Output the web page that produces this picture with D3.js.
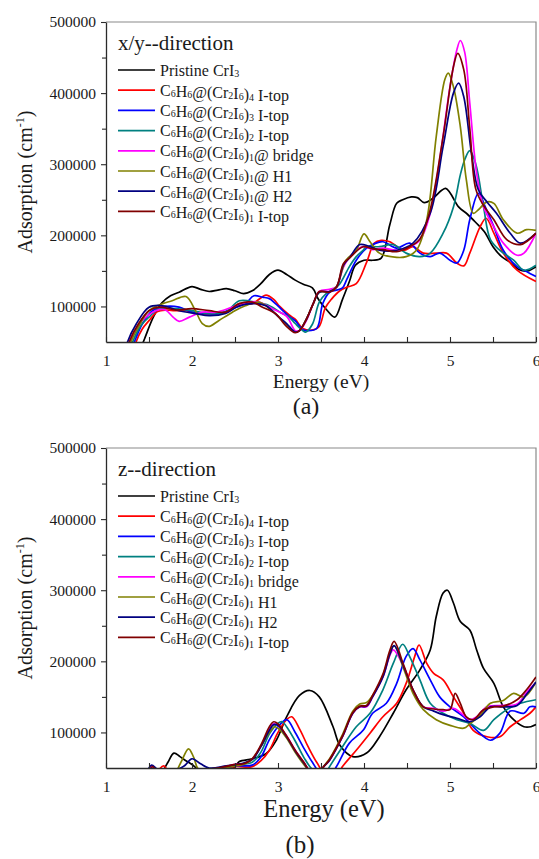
<!DOCTYPE html>
<html>
<head>
<meta charset="utf-8">
<script src="https://cdn.jsdelivr.net/npm/d3@7"></script>
<style>
  html, body { margin: 0; padding: 0; background: #fff; }
  svg { display: block; }
  svg text { font-family: "Liberation Serif", "Times New Roman", serif !important; fill: #1a1a1a; }
</style>
</head>
<body>
<svg id="chart" width="539" height="859"></svg>
<script>
// Optical absorption spectra of pristine CrI3 and C6H6-adsorbed Cr2I6 supercells.
// Each series is a list of [energy (eV), absorption (10^3 cm^-1)] pairs.

const seriesNames = [
  "Pristine CrI_3",
  "C_6H_6@(Cr_2I_6)_4 I-top",
  "C_6H_6@(Cr_2I_6)_3 I-top",
  "C_6H_6@(Cr_2I_6)_2 I-top",
  "C_6H_6@(Cr_2I_6)_1@ bridge",
  "C_6H_6@(Cr_2I_6)_1@ H1",
  "C_6H_6@(Cr_2I_6)_1@ H2",
  "C_6H_6@(Cr_2I_6)_1 I-top"
];
const seriesNamesZ = [
  "Pristine CrI_3",
  "C_6H_6@(Cr_2I_6)_4 I-top",
  "C_6H_6@(Cr_2I_6)_3 I-top",
  "C_6H_6@(Cr_2I_6)_2 I-top",
  "C_6H_6@(Cr_2I_6)_1 bridge",
  "C_6H_6@(Cr_2I_6)_1 H1",
  "C_6H_6@(Cr_2I_6)_1 H2",
  "C_6H_6@(Cr_2I_6)_1 I-top"
];
const seriesColors = ["#000000", "#ff0000", "#0000ff", "#008080", "#ff00ff", "#808000", "#000080", "#800000"];

const xTicks = [1, 2, 3, 4, 5, 6];
const xMinorTicks = [1.5, 2.5, 3.5, 4.5, 5.5];
const yTicks = [100000, 200000, 300000, 400000, 500000];
const yMinorTicks = [150000, 250000, 350000, 450000];

// ---- x/y direction ----
const xyPristine = [[1.40,40],[1.45,55],[1.55,85],[1.65,105],[1.75,115],[1.85,120],[2.0,128],[2.1,124],[2.2,121],[2.3,123],[2.4,125],[2.5,122],[2.6,118],[2.7,122],[2.8,132],[2.9,145],[3.0,151],[3.1,145],[3.2,137],[3.3,131],[3.4,126],[3.47,110],[3.56,96],[3.66,85],[3.75,110],[3.83,135],[3.9,158],[4.0,165],[4.1,165],[4.2,168],[4.3,215],[4.38,245],[4.45,250],[4.55,254],[4.62,253],[4.7,246],[4.8,252],[4.9,263],[4.95,266],[5.0,260],[5.1,240],[5.2,230],[5.3,218],[5.4,205],[5.5,184],[5.6,170],[5.7,162],[5.8,152],[5.9,150],[6.0,156]];
const xyItop4 = [[1.33,40],[1.35,50],[1.42,68],[1.5,80],[1.6,93],[1.7,95],[1.8,94],[1.93,94],[2.08,90],[2.24,90],[2.39,92],[2.55,104],[2.7,104],[2.8,112],[2.86,116],[2.95,110],[3.02,100],[3.13,88],[3.2,82],[3.29,69],[3.41,67],[3.48,72],[3.55,98],[3.62,110],[3.72,122],[3.8,127],[3.91,132],[4.03,162],[4.12,189],[4.2,193],[4.3,191],[4.46,179],[4.57,184],[4.69,175],[4.84,175],[4.96,175],[5.08,161],[5.16,157],[5.23,175],[5.35,212],[5.42,224],[5.51,203],[5.62,175],[5.78,151],[6.0,135]];
const xyItop3 = [[1.3,40],[1.33,50],[1.42,75],[1.54,94],[1.69,100],[1.85,99],[2.0,92],[2.16,90],[2.31,90],[2.47,97],[2.62,104],[2.72,115],[2.82,113],[2.9,111],[2.97,104],[3.13,86],[3.2,80],[3.28,68],[3.33,66],[3.45,69],[3.52,104],[3.6,120],[3.68,123],[3.75,126],[3.8,138],[3.91,165],[4.03,182],[4.12,188],[4.22,191],[4.38,182],[4.53,189],[4.65,175],[4.77,170],[4.88,175],[5.0,165],[5.08,161],[5.16,179],[5.23,222],[5.33,259],[5.41,240],[5.51,212],[5.62,179],[5.78,156],[5.89,149],[6.0,142]];
const xyItop2 = [[1.28,40],[1.31,50],[1.4,72],[1.5,85],[1.62,97],[1.81,97],[2.0,94],[2.2,90],[2.39,92],[2.55,108],[2.74,106],[2.9,101],[3.05,90],[3.12,86],[3.2,76],[3.25,70],[3.32,64],[3.4,75],[3.48,106],[3.56,118],[3.65,124],[3.72,132],[3.83,156],[3.91,170],[3.99,179],[4.03,184],[4.18,184],[4.34,187],[4.49,175],[4.65,170],[4.77,175],[4.92,203],[5.04,240],[5.12,285],[5.17,306],[5.23,319],[5.3,300],[5.39,240],[5.47,194],[5.58,179],[5.74,165],[5.86,151],[6.0,158]];
const xyBridge = [[1.25,40],[1.27,50],[1.35,68],[1.42,80],[1.58,94],[1.69,95],[1.78,85],[1.85,79],[1.97,85],[2.12,92],[2.28,92],[2.47,99],[2.66,106],[2.78,106],[2.93,97],[3.1,86],[3.2,66],[3.25,66],[3.33,80],[3.41,104],[3.48,121],[3.6,124],[3.68,128],[3.76,155],[3.85,172],[3.99,184],[4.1,180],[4.22,182],[4.38,179],[4.53,184],[4.65,193],[4.77,231],[4.88,306],[5.0,409],[5.08,461],[5.12,474],[5.17,458],[5.23,386],[5.31,287],[5.39,240],[5.51,212],[5.62,189],[5.78,172],[5.86,175],[6.0,203]];
const xyH1 = [[1.27,40],[1.29,50],[1.38,72],[1.5,94],[1.66,104],[1.77,108],[1.93,114],[2.04,94],[2.12,76],[2.2,72],[2.31,80],[2.47,92],[2.62,101],[2.78,106],[2.93,94],[3.09,76],[3.2,64],[3.25,66],[3.33,82],[3.41,104],[3.48,120],[3.6,121],[3.68,128],[3.79,165],[3.91,179],[4.0,202],[4.07,191],[4.18,175],[4.38,169],[4.49,170],[4.61,179],[4.73,222],[4.84,339],[4.94,419],[4.98,428],[5.04,409],[5.12,353],[5.19,278],[5.27,231],[5.33,236],[5.43,247],[5.51,245],[5.62,222],[5.78,203],[5.89,208],[6.0,207]];
const xyH2 = [[1.23,40],[1.25,50],[1.35,75],[1.5,99],[1.66,101],[1.85,94],[2.04,90],[2.2,87],[2.39,90],[2.55,101],[2.74,104],[2.86,101],[3.01,85],[3.1,76],[3.2,64],[3.25,66],[3.33,82],[3.41,104],[3.48,120],[3.6,121],[3.68,127],[3.76,158],[3.83,168],[3.95,187],[4.05,185],[4.18,179],[4.38,179],[4.57,189],[4.77,231],[4.92,325],[5.04,400],[5.1,414],[5.16,395],[5.25,315],[5.33,264],[5.43,247],[5.54,231],[5.7,203],[5.82,189],[6.0,203]];
const xyItop1 = [[1.25,40],[1.27,50],[1.38,76],[1.5,94],[1.62,99],[1.81,95],[2.0,97],[2.2,94],[2.39,92],[2.55,104],[2.7,106],[2.82,99],[2.97,90],[3.09,73],[3.2,63],[3.25,66],[3.33,82],[3.41,104],[3.48,121],[3.6,120],[3.68,127],[3.76,160],[3.83,168],[3.99,184],[4.1,181],[4.22,180],[4.38,177],[4.53,184],[4.65,195],[4.77,236],[4.92,339],[5.04,437],[5.09,456],[5.16,433],[5.23,350],[5.3,265],[5.39,242],[5.51,222],[5.66,194],[5.82,187],[6.0,203]];

// ---- z direction ----
const zPristine = [[1.66,45],[1.72,58],[1.79,71],[1.86,66],[1.92,61],[2.0,55],[2.04,51],[2.1,45],[2.4,45],[2.5,52],[2.55,59],[2.7,63],[2.86,70],[2.98,89],[3.1,122],[3.25,152],[3.37,159],[3.48,150],[3.64,108],[3.72,82],[3.87,66],[4.03,71],[4.18,94],[4.34,127],[4.49,160],[4.65,188],[4.77,216],[4.84,263],[4.92,296],[4.97,300],[5.04,282],[5.12,256],[5.23,244],[5.31,216],[5.39,190],[5.51,169],[5.62,136],[5.74,118],[5.86,108],[5.94,108],[6.0,111]];
const zItop4 = [[1.6,45],[1.67,53],[1.73,46],[2.3,48],[2.5,52],[2.7,52],[2.8,60],[2.9,75],[3.0,100],[3.1,118],[3.16,122],[3.25,105],[3.35,80],[3.45,58],[3.55,42],[3.7,42],[3.75,52],[3.91,75],[4.07,99],[4.22,122],[4.38,141],[4.49,169],[4.59,207],[4.64,223],[4.73,197],[4.81,183],[4.92,174],[5.04,150],[5.16,127],[5.27,103],[5.43,94],[5.58,94],[5.7,108],[5.82,118],[5.93,127],[6.0,136]];
const zItop3 = [[1.5,45],[1.55,52],[1.6,47],[2.3,48],[2.5,53],[2.7,54],[2.8,65],[2.9,90],[3.0,108],[3.1,118],[3.2,100],[3.3,78],[3.4,58],[3.5,42],[3.62,42],[3.68,52],[3.83,85],[3.99,103],[4.1,127],[4.26,141],[4.38,169],[4.49,207],[4.57,218],[4.65,202],[4.77,174],[4.88,150],[5.0,136],[5.16,122],[5.31,103],[5.47,89],[5.58,99],[5.7,130],[5.86,127],[5.93,136],[6.0,136]];
const zItop2 = [[2.3,48],[2.5,54],[2.7,58],[2.8,72],[2.9,98],[3.0,113],[3.05,115],[3.1,108],[3.2,88],[3.3,65],[3.4,48],[3.5,42],[3.55,42],[3.6,52],[3.75,80],[3.91,108],[4.07,127],[4.22,160],[4.34,197],[4.45,224],[4.53,207],[4.65,174],[4.77,141],[4.92,127],[5.08,118],[5.23,113],[5.39,103],[5.51,118],[5.66,132],[5.82,141],[6.0,146]];
const zBridge = [[1.5,45],[1.53,53],[1.58,46],[2.3,50],[2.5,55],[2.6,56],[2.7,62],[2.8,80],[2.9,105],[2.95,112],[3.0,110],[3.1,95],[3.2,75],[3.3,58],[3.38,45],[3.5,42],[3.52,50],[3.6,61],[3.75,94],[3.87,127],[3.95,136],[4.03,136],[4.1,150],[4.22,178],[4.3,208],[4.34,216],[4.46,193],[4.57,160],[4.69,136],[4.81,134],[4.92,130],[5.04,134],[5.12,128],[5.23,118],[5.31,122],[5.43,136],[5.62,138],[5.78,140],[5.9,158],[6.0,170]];
const zH1 = [[1.82,45],[1.88,60],[1.96,77],[2.02,65],[2.08,48],[2.3,48],[2.5,53],[2.6,55],[2.7,62],[2.8,80],[2.9,100],[2.96,108],[3.02,104],[3.1,92],[3.2,72],[3.3,55],[3.38,45],[3.5,42],[3.52,50],[3.6,63],[3.75,97],[3.87,130],[3.95,140],[4.03,142],[4.1,152],[4.22,180],[4.3,210],[4.35,222],[4.46,190],[4.57,155],[4.69,132],[4.84,118],[5.0,110],[5.16,106],[5.23,112],[5.35,124],[5.47,141],[5.62,145],[5.74,155],[5.86,150],[6.0,171]];
const zH2 = [[1.48,45],[1.53,54],[1.6,48],[1.7,45],[1.9,52],[2.0,63],[2.1,56],[2.2,50],[2.4,53],[2.6,57],[2.7,62],[2.8,80],[2.9,103],[2.95,111],[3.0,110],[3.1,94],[3.2,74],[3.3,57],[3.38,45],[3.5,42],[3.52,50],[3.6,61],[3.75,94],[3.87,127],[3.95,136],[4.03,137],[4.1,150],[4.22,178],[4.3,210],[4.35,222],[4.46,193],[4.57,160],[4.69,136],[4.81,130],[4.92,125],[5.08,120],[5.23,115],[5.35,122],[5.47,136],[5.62,136],[5.78,138],[5.9,155],[6.0,171]];
const zItop1 = [[1.5,45],[1.54,52],[1.6,46],[2.3,50],[2.5,55],[2.6,56],[2.7,63],[2.8,82],[2.9,108],[2.95,115],[3.0,112],[3.1,95],[3.2,75],[3.3,58],[3.38,45],[3.5,42],[3.52,50],[3.6,62],[3.75,95],[3.87,128],[3.95,137],[4.03,138],[4.1,152],[4.22,182],[4.3,215],[4.35,228],[4.46,195],[4.57,160],[4.69,136],[4.81,133],[4.92,132],[5.0,132],[5.06,155],[5.12,141],[5.19,122],[5.27,118],[5.39,132],[5.51,136],[5.62,137],[5.78,146],[5.89,160],[6.0,178]];

const panels = [
  { id: "a", top: 22, bottom: 342, title: "x/y--direction", names: seriesNames,
    series: [xyPristine, xyItop4, xyItop3, xyItop2, xyBridge, xyH1, xyH2, xyItop1],
    xTitleSize: 19.5, xTitleY: 388, xTitleX: 321, tag: "(a)", tagX: 306, tagY: 414, tagSize: 24 },
  { id: "b", top: 448, bottom: 768, title: "z--direction", names: seriesNamesZ,
    series: [zPristine, zItop4, zItop3, zItop2, zBridge, zH1, zH2, zItop1],
    xTitleSize: 24.5, xTitleY: 817, xTitleX: 324, tag: "(b)", tagX: 300, tagY: 853, tagSize: 25 }
];

const left = 106, right = 536;
const serif = '"Liberation Serif", "Times New Roman", serif';
const svg = d3.select("#chart");

// Writes a label where "_x" marks a single subscript character.
function richText(sel, str, size, subSize) {
  const parts = str.split(/(_.)/).filter(s => s.length);
  parts.forEach(p => {
    if (p[0] === "_") {
      sel.append("tspan").style("font-size", subSize + "px").attr("dy", 1).text(p[1]);
      sel.append("tspan").style("font-size", size + "px").attr("dy", -1).text("");
    } else {
      sel.append("tspan").style("font-size", size + "px").text(p);
    }
  });
}

panels.forEach(p => {
  const x = d3.scaleLinear().domain([1, 6]).range([left, right]);
  const y = d3.scaleLinear().domain([50000, 500000]).range([p.bottom, p.top]);
  const g = svg.append("g");

  const clipId = "clip-" + p.id;
  g.append("clipPath").attr("id", clipId)
    .append("rect").attr("x", left).attr("y", p.top)
    .attr("width", right - left).attr("height", p.bottom - p.top);

  // frame: top and right edges
  g.append("path")
    .attr("d", `M${left},${p.top}H${right}V${p.bottom}`)
    .attr("fill", "none").attr("stroke", "#8a8a8a").attr("stroke-width", 1.2);

  // spectra
  const line = d3.line()
    .x(d => x(d[0]))
    .y(d => y(d[1] * 1000))
    .curve(d3.curveCatmullRom.alpha(0.5));
  const lines = g.append("g").attr("clip-path", `url(#${clipId})`);
  p.series.forEach((s, i) => {
    lines.append("path").datum(s)
      .attr("d", line)
      .attr("fill", "none")
      .attr("stroke", seriesColors[i])
      .attr("stroke-width", 1.7)
      .attr("stroke-linejoin", "round");
  });

  // y axis (ticks outward)
  g.append("g").attr("transform", `translate(${left},0)`)
    .call(d3.axisLeft(y).tickValues(yTicks).tickFormat(d3.format("d"))
      .tickSize(5).tickPadding(5).tickSizeOuter(0));
  g.append("g").attr("transform", `translate(${left},0)`)
    .call(d3.axisLeft(y).tickValues(yMinorTicks).tickFormat("").tickSize(4).tickSizeOuter(0))
    .select(".domain").remove();

  // x axis (ticks inward)
  g.append("g").attr("transform", `translate(0,${p.bottom})`)
    .call(d3.axisBottom(x).tickValues(xTicks).tickFormat(d3.format("d"))
      .tickSize(-5).tickPadding(13).tickSizeOuter(0));
  g.append("g").attr("transform", `translate(0,${p.bottom})`)
    .call(d3.axisBottom(x).tickValues(xMinorTicks).tickFormat("").tickSize(-5).tickSizeOuter(0))
    .select(".domain").remove();

  g.selectAll(".domain").attr("stroke", "#2a2a2a").attr("stroke-width", 1.3);
  g.selectAll(".tick line").attr("stroke", "#2a2a2a").attr("stroke-width", 1.1);
  g.selectAll(".tick text")
    .style("font-family", serif)
    .style("font-size", "15.5px").attr("fill", "#1a1a1a");

  // axis titles
  const yMid = (p.top + p.bottom) / 2;
  const yt = g.append("text")
    .attr("transform", `translate(32,${yMid}) rotate(-90)`)
    .attr("text-anchor", "middle").style("font-family", serif).style("font-size", "20px");
  yt.append("tspan").text("Adsorption (cm");
  yt.append("tspan").style("font-size", "12px").attr("dy", -8).text("-1");
  yt.append("tspan").attr("dy", 8).text(")");

  g.append("text").attr("x", p.xTitleX).attr("y", p.xTitleY)
    .attr("text-anchor", "middle").style("font-family", serif)
    .style("font-size", p.xTitleSize + "px").text("Energy (eV)");

  g.append("text").attr("x", p.tagX).attr("y", p.tagY)
    .attr("text-anchor", "middle").style("font-family", serif)
    .style("font-size", p.tagSize + "px").text(p.tag);

  // legend
  const lx = left + 12;
  g.append("text").attr("x", lx).attr("y", p.top + 28)
    .style("font-family", serif).style("font-size", "21px").text(p.title);
  p.names.forEach((name, i) => {
    const ly = p.top + 48 + i * 20.2;
    g.append("line").attr("x1", lx).attr("x2", lx + 37).attr("y1", ly).attr("y2", ly)
      .attr("stroke", seriesColors[i]).attr("stroke-width", 1.7);
    const t = g.append("text").attr("x", lx + 42).attr("y", ly + 5.5).style("font-family", serif);
    richText(t, name, 16, 10);
  });
});
</script>
</body>
</html>
